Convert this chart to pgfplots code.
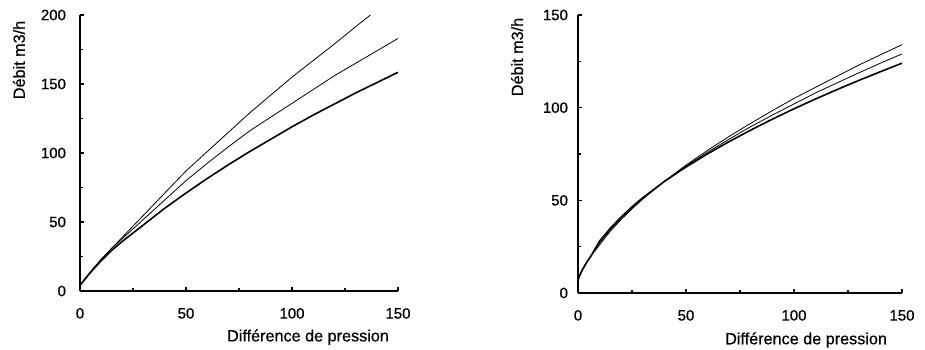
\documentclass[border=0pt]{standalone}
\usepackage{fontspec}
\setmainfont{Liberation Sans}
\newfontfamily\scanfont{Liberation Sans}[FakeBold=0.6]
\usepackage{pgfplots}
\pgfplotsset{compat=1.18}
\pgfplotsset{
  mystyle/.style={
    scale only axis,
    axis lines=left,
    axis line style={-, line width=0.75pt},
    tick align=inside,
    major tick length=2pt,
    minor tick length=1.3pt,
    every tick/.style={line width=0.7pt, black},
    font=\scanfont\fontsize{7.5}{9}\selectfont,
    label style={font=\scanfont\fontsize{8.1}{9}\selectfont},
    /pgf/number format/assume math mode=true,
    xmin=0, xmax=150, xtick={0,50,100,150}, minor x tick num=1,
    minor y tick num=1,
    xticklabel style={yshift=-5pt},
    xlabel={Différence de pression},
    ylabel={Débit m3/h},
    cycle list={{black, mark=none, line width=0.8pt, smooth}},
    anchor=south west,
  }
}
\begin{document}
\begin{tikzpicture}
\useasboundingbox (0,0) rectangle (462.5pt,174.5pt);
% Left chart
\begin{axis}[mystyle,
  at={(40pt,29pt)}, width=159pt, height=138pt,
  ymin=0, ymax=200, ytick={0,50,100,150,200},
  yticklabel style={xshift=-3.5pt},
  xlabel style={at={(axis description cs:0.717,-0.167)}, anchor=center},
  ylabel style={at={(axis description cs:-0.192,0.837)}, anchor=center},
]
\addplot coordinates {(0,4) (2,8) (5,14) (10,23) (15,31) (20,39) (25,47) (30,55) (40,71) (50,87) (60,101) (70,115) (80,129) (90,142) (100,155) (110,167) (120,179) (130,191.5) (137,200)};
\addplot coordinates {(0,4) (2,8) (5,14) (10,23) (15,31) (20,38) (25,45) (30,52) (40,66) (50,80) (60,92.5) (70,104.5) (80,116) (90,126) (100,136) (110,146) (120,156) (130,165) (140,174) (150,183)};
\addplot coordinates {(0,4) (2,8) (5,13.5) (10,22) (15,29.5) (20,36) (25,42) (30,48) (40,60) (50,71) (60,81.5) (70,91.5) (80,101) (90,110) (100,119) (110,127.5) (120,135.5) (130,143.5) (140,151) (150,158.5)};
\end{axis}
% Right chart
\begin{axis}[mystyle,
  at={(289pt,28pt)}, width=162pt, height=139pt,
  ymin=0, ymax=150, ytick={0,50,100,150},
  yticklabel style={xshift=-1.5pt},
  xlabel style={at={(axis description cs:0.704,-0.169)}, anchor=center},
  ylabel style={at={(axis description cs:-0.188,0.849)}, anchor=center},
]
\addplot coordinates {(0,7) (1,10) (2,12.5) (4,16.5) (6,20) (10,26) (15,33.4) (20,39.7) (25,45.4) (30,50.7) (40,60.3) (50,69) (60,77) (70,84.5) (80,91.6) (90,98.4) (100,105) (110,111) (120,117) (130,123) (140,128.5) (150,134)};
\addplot coordinates {(0,7) (1,10) (2,12.5) (4,16.5) (6,20) (10,27) (15,34.2) (20,40.4) (25,46) (30,51) (40,60.2) (50,68.5) (60,76) (70,83) (80,89.8) (90,96) (100,102) (110,108) (120,113.4) (130,118.8) (140,124) (150,129)};
\addplot coordinates {(0,7) (1,10) (2,12.5) (4,16.5) (6,20) (10,28) (15,35) (20,41) (25,46.5) (30,51.4) (40,60.2) (50,68) (60,75.1) (70,81.7) (80,87.9) (90,93.8) (100,99.4) (110,104.7) (120,109.8) (130,114.7) (140,119.4) (150,124)};
\end{axis}
\end{tikzpicture}
\end{document}
